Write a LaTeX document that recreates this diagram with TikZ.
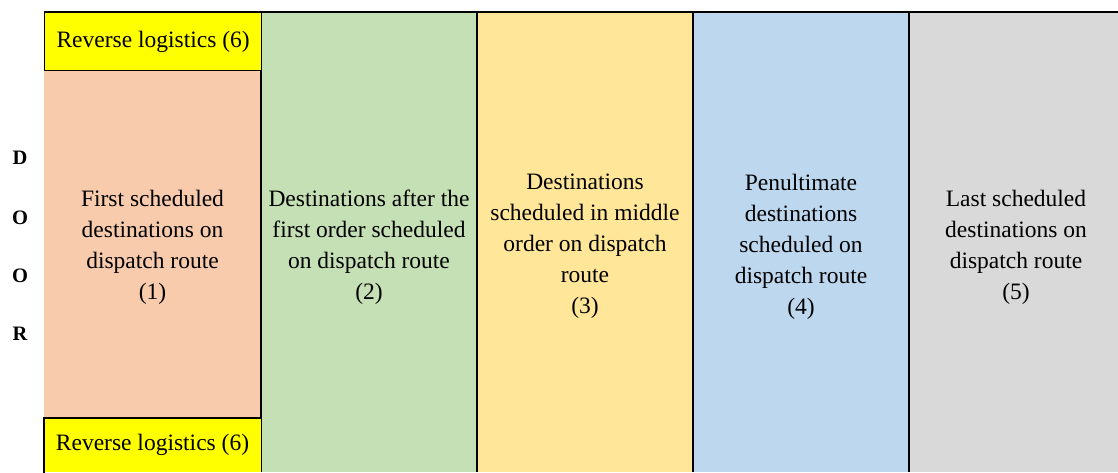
\documentclass[tikz,border=0pt]{standalone}
\usepackage{fontspec}
\setmainfont{Liberation Serif}
\definecolor{csalmon}{HTML}{F8CBAD}
\definecolor{cgreen}{HTML}{C5E0B4}
\definecolor{cyel}{HTML}{FFE699}
\definecolor{cblue}{HTML}{BDD7EE}
\definecolor{cgray}{HTML}{D9D9D9}
\definecolor{cbright}{HTML}{FFFF00}
\begin{document}
\begin{tikzpicture}[x=1pt,y=-1pt,
  cell/.style={inner sep=0pt, outer sep=0pt, anchor=north west, minimum height=460pt},
  rev/.style={draw=black, line width=1.3pt, fill=cbright, inner sep=0pt, anchor=north west, minimum width=217pt,
    font=\fontsize{23.5}{28}\selectfont},
  lab/.style={align=center, inner sep=0pt, font=\fontsize{23.5}{31}\selectfont},
  door/.style={inner sep=0pt, font=\fontsize{20.5}{24}\selectfont\bfseries},
  rule/.style={line width=1.3pt, black}]
\useasboundingbox (0,0) rectangle (1118,472);
% column cells
\node[cell, fill=csalmon, minimum width=217pt] (c1) at (44,12) {};
\node[cell, fill=cgreen, minimum width=216pt] (c2) at (261,12) {};
\node[cell, fill=cyel, minimum width=216pt] (c3) at (477,12) {};
\node[cell, fill=cblue, minimum width=216pt] (c4) at (693,12) {};
\node[cell, fill=cgray, minimum width=209pt] (c5) at (909,12) {};
% rules
\draw[rule] (c1.north west) -- (c5.north east);
\draw[rule] (c2.north west) -- (c2.south west);
\draw[rule] (c3.north west) -- (c3.south west);
\draw[rule] (c4.north west) -- (c4.south west);
\draw[rule] (c5.north west) -- (c5.south west);
% reverse logistics boxes
\node[rev, minimum height=58pt] (r1) at (44,12) {Reverse logistics (6)};
\path[fill=cbright] (44,418) rectangle (261,472);
\draw[rule] (44,472.7) -- (44,418) -- (261,418);
\node[inner sep=0pt, font=\fontsize{23.5}{28}\selectfont] (r2) at (152.5,445) {Reverse logistics (6)};
% column texts
\node[lab] (t1) at (152.5,247) {First scheduled\\destinations on\\dispatch route\\(1)};
\node[lab] (t2) at (369,247) {Destinations after the\\first order scheduled\\on dispatch route\\(2)};
\node[lab] (t3) at (585,246) {Destinations\\scheduled in middle\\order on dispatch\\route\\(3)};
\node[lab] (t4) at (801,247) {Penultimate\\destinations\\scheduled on\\dispatch route\\(4)};
\node[lab] (t5) at (1016,247) {Last scheduled\\destinations on\\dispatch route\\(5)};
% DOOR
\node[door] (d1) at (20,158) {D};
\node[door] (d2) at (20,218) {O};
\node[door] (d3) at (20,276) {O};
\node[door] (d4) at (20,334) {R};
\end{tikzpicture}
\end{document}
